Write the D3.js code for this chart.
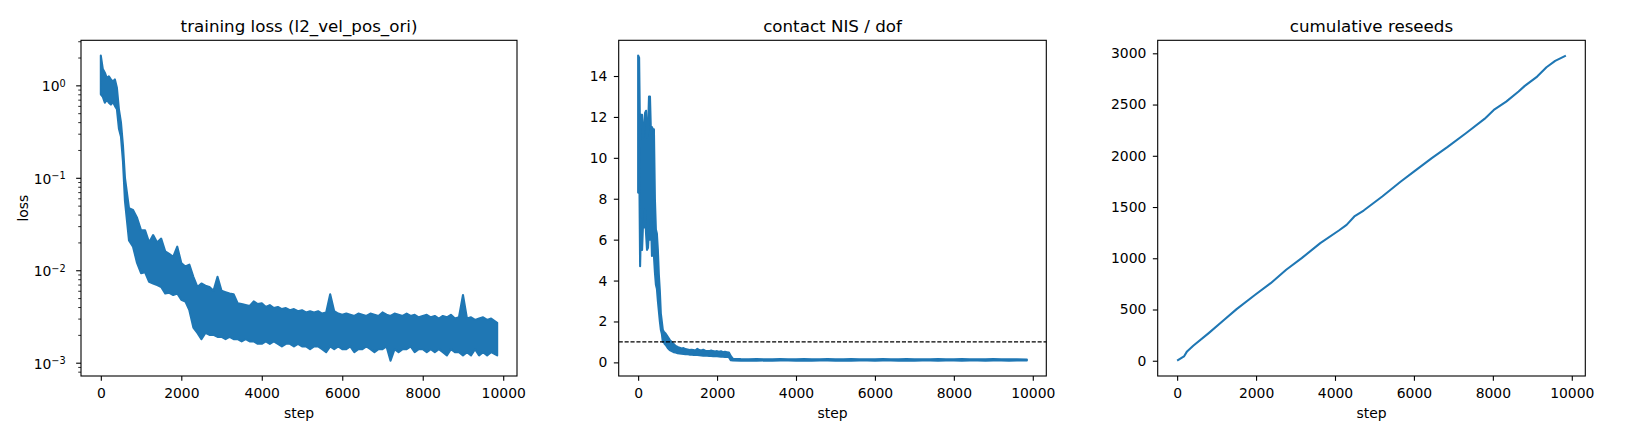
<!DOCTYPE html>
<html><head><meta charset="utf-8">
<script src="https://cdn.jsdelivr.net/npm/d3@7"></script>
<style>
body{margin:0;background:#fff}
svg{display:block}
text{font-family:"DejaVu Sans",sans-serif;fill:#000}
</style>
</head><body>
<svg id="c" width="1650" height="440"></svg>
<script>
// ---------- data ----------
const stepRange = [0, 9850];   // first and last logged step

// Panel 1: training loss, per bin: upper and lower envelope of the noisy trace
const lossStep = [0,50,100,150,200,250,300,350,400,450,500,550,600,700,800,900,1000,1100,1200,1300,1400,1500,1600,1700,1800,1900,
  2000,2100,2200,2300,2400,2500,2600,2700,2800,2900,3000,3100,3200,3300,3400,3500,3600,3700,3800,3900,
  4000,4100,4200,4300,4400,4500,4600,4700,4800,4900,5000,5100,5200,5300,5400,5500,5600,5700,5800,5900,
  6000,6100,6200,6300,6400,6500,6600,6700,6800,6900,7000,7100,7200,7300,7400,7500,7600,7700,7800,7900,
  8000,8100,8200,8300,8400,8500,8600,8700,8800,8900,9000,9100,9200,9300,9400,9500,9600,9700,9850];
const lossHi = [2.1,1.5,1.37,1.2,1.25,1.16,1.1,1.16,0.94,0.55,0.4,0.225,0.1,0.047,0.045,0.037,0.027,0.027,0.02,0.024,0.02,0.022,0.016,0.015,0.014,0.018,
  0.012,0.011,0.0115,0.0085,0.0066,0.0072,0.0068,0.0066,0.006,0.0085,0.006,0.0058,0.0056,0.0055,0.0044,0.0043,0.0042,0.0041,0.0046,0.0043,
  0.0044,0.004,0.0042,0.0039,0.004,0.0038,0.0039,0.0037,0.0038,0.0036,0.0037,0.0035,0.0036,0.0035,0.0036,0.0034,0.0035,0.0055,0.0036,0.0034,
  0.0033,0.0034,0.0033,0.0032,0.0034,0.0033,0.0032,0.0034,0.0033,0.0032,0.0035,0.0033,0.0032,0.0034,0.0033,0.0032,0.0034,0.0032,0.0033,0.0031,
  0.0032,0.0033,0.0031,0.0032,0.003,0.0032,0.0031,0.0033,0.003,0.0031,0.0054,0.003,0.0031,0.0029,0.003,0.0031,0.0029,0.003,0.0027];
const lossLo = [0.8,0.75,0.65,0.7,0.65,0.62,0.66,0.6,0.55,0.34,0.28,0.15,0.056,0.021,0.018,0.012,0.0093,0.0095,0.0075,0.0072,0.0069,0.0066,0.0056,0.0057,0.0054,0.0056,
  0.0048,0.0046,0.0037,0.0024,0.0021,0.0018,0.0021,0.002,0.002,0.0019,0.0019,0.0018,0.0019,0.0018,0.0018,0.0017,0.0018,0.0017,0.0017,0.0016,
  0.0016,0.0017,0.0016,0.0017,0.0016,0.0015,0.0016,0.0016,0.0015,0.0016,0.0015,0.0015,0.0014,0.0015,0.0015,0.0014,0.0013,0.0015,0.0014,0.0015,
  0.0014,0.0014,0.0015,0.0013,0.0014,0.0014,0.0015,0.0014,0.0013,0.0014,0.0014,0.0015,0.00105,0.0014,0.0013,0.0014,0.0014,0.0015,0.0013,0.0014,
  0.0014,0.0013,0.0014,0.0013,0.0014,0.0013,0.0012,0.0014,0.0013,0.0013,0.0012,0.0013,0.0012,0.0014,0.0012,0.0013,0.0012,0.0013,0.0012];

// Panel 2: contact NIS / dof, upper and lower envelope per bin
const nisStep = [0,25,50,75,100,125,150,175,200,225,250,275,300,325,350,375,400,425,450,475,500,525,550,575,600,625,650,675,700,
  750,800,850,900,950,1000,1050,1100,1150,1200,1250,1300,1350,1400,1450,1500,1550,1600,1650,1700,1750,1800,1850,1900,1950,2000,2050,2100,2150,2200,2250,2300,
  2350,2400,
  2600,2800,3000,3200,3400,3600,3800,4000,4200,4400,4600,4800,5000,5200,5400,5600,5800,6000,6200,6400,6600,6800,7000,7200,7400,7600,7800,8000,8200,8400,8600,8800,9000,9200,9400,9600,9850];
const nisHi = [15.0,14.9,10.9,12.1,12.1,11.0,11.4,12.2,12.3,11.0,11.3,13.0,13.0,11.2,11.5,11.4,11.4,8.0,6.5,6.3,5.5,4.3,3.5,2.4,2.0,1.6,1.5,1.45,1.4,
  1.25,1.1,1.0,0.9,0.8,0.75,0.72,0.68,0.7,0.65,0.63,0.6,0.62,0.6,0.58,0.66,0.6,0.58,0.62,0.57,0.56,0.55,0.58,0.55,0.53,0.55,0.52,0.54,0.5,0.52,0.5,0.48,
  0.3,0.18,
  0.16,0.15,0.16,0.15,0.15,0.16,0.15,0.15,0.16,0.15,0.15,0.16,0.15,0.15,0.16,0.15,0.15,0.15,0.16,0.15,0.15,0.16,0.15,0.15,0.15,0.16,0.15,0.15,0.16,0.15,0.15,0.15,0.16,0.15,0.15,0.15,0.14];
const nisLo = [8.3,10.5,4.7,7.0,5.5,6.8,6.6,7.5,6.3,5.5,5.6,6.5,6.0,7.0,5.2,6.0,5.2,4.4,3.8,3.6,3.0,2.5,2.0,1.6,1.4,1.0,1.0,0.9,0.85,
  0.7,0.6,0.55,0.5,0.48,0.45,0.44,0.42,0.41,0.4,0.4,0.38,0.38,0.36,0.37,0.36,0.35,0.34,0.33,0.33,0.32,0.31,0.31,0.3,0.3,0.3,0.29,0.28,0.28,0.27,0.27,0.25,
  0.1,0.09,
  0.08,0.09,0.08,0.09,0.08,0.09,0.09,0.08,0.09,0.08,0.09,0.09,0.08,0.09,0.08,0.09,0.09,0.08,0.09,0.09,0.08,0.09,0.08,0.09,0.09,0.08,0.09,0.09,0.08,0.09,0.09,0.08,0.09,0.09,0.08,0.09,0.09];
const nisTarget = 1;

// Panel 3: cumulative reseeds
const reseedStep  = [0,173,251,408,800,1193,1507,1978,2371,2763,3156,3627,4098,4294,4490,4726,5197,5668,5982,6453,6846,7317,7788,8024,8338,8652,8809,9123,9359,9579,9850];
const reseedCount = [0,42,91,146,270,400,504,644,757,888,1001,1148,1271,1326,1408,1466,1603,1749,1840,1977,2084,2220,2360,2447,2529,2627,2682,2773,2864,2926,2978];

// tick values
const stepTicks   = [0,2000,4000,6000,8000,10000];
const lossTicks   = [1e-3,1e-2,1e-1,1];
const nisTicks    = [0,2,4,6,8,10,12,14];
const reseedTicks = [0,500,1000,1500,2000,2500,3000];

const titles = ["training loss (l2_vel_pos_ori)","contact NIS / dof","cumulative reseeds"];

// ---------- drawing ----------
const svg = d3.select('#c');
svg.append('rect').attr('width',1650).attr('height',440).attr('fill','#fff');
const TOP = 40.3, BOTTOM = 376;
const FS = 13.9, TITLE_FS = 16.7;
const BLUE = '#1f77b4';
const boxes = [{l:81,r:517},{l:618.7,r:1046.3},{l:1157.7,r:1585.3}];

function xScale(box){
  const p = (stepRange[1]-stepRange[0])*0.05;
  return d3.scaleLinear().domain([stepRange[0]-p, stepRange[1]+p]).range([box.l, box.r]);
}
function linY(lo, hi){
  const e = [d3.min(lo), d3.max(hi)]; const p = (e[1]-e[0])*0.05;
  return d3.scaleLinear().domain([e[0]-p, e[1]+p]).range([BOTTOM, TOP]);
}
function logY(lo, hi){
  const e = [Math.log10(d3.min(lo)), Math.log10(d3.max(hi))]; const p = (e[1]-e[0])*0.05;
  return d3.scaleLog().domain([Math.pow(10,e[0]-p), Math.pow(10,e[1]+p)]).range([BOTTOM, TOP]);
}

function drawPanel(i, y, yTicks, opts, drawData){
  const box = boxes[i];
  const x = xScale(box);
  const g = svg.append('g');
  const clipId = 'clip'+i;
  svg.append('clipPath').attr('id',clipId).append('rect')
    .attr('x',box.l).attr('y',TOP).attr('width',box.r-box.l).attr('height',BOTTOM-TOP);

  // x axis
  const xa = g.append('g').attr('transform',`translate(0,${BOTTOM})`)
    .call(d3.axisBottom(x).tickValues(stepTicks).tickFormat(d3.format('d')).tickSizeOuter(0).tickSize(4.86).tickPadding(7.5));
  xa.select('.domain').remove();
  xa.selectAll('line').attr('stroke','#000').attr('stroke-width',1.1);
  xa.selectAll('text').attr('font-size',FS).attr('font-family','DejaVu Sans').attr('fill','#000');

  // y axis
  if (opts.log){
    const [d0,d1] = y.domain();
    const minor = [];
    for (let e=-5;e<=1;e++) for (let k=2;k<=9;k++){ const v=k*Math.pow(10,e); if (v>=d0 && v<=d1) minor.push(v); }
    const ym = g.append('g').attr('transform',`translate(${box.l},0)`)
      .call(d3.axisLeft(y).tickValues(minor).tickFormat('').tickSizeOuter(0).tickSize(2.78));
    ym.select('.domain').remove();
    ym.selectAll('line').attr('stroke','#000').attr('stroke-width',0.83);
    const ya = g.append('g').attr('transform',`translate(${box.l},0)`)
      .call(d3.axisLeft(y).tickValues(yTicks).tickFormat('').tickSizeOuter(0).tickSize(4.86));
    ya.select('.domain').remove();
    ya.selectAll('line').attr('stroke','#000').attr('stroke-width',1.1);
    yTicks.forEach(v=>{
      const ex = Math.round(Math.log10(v));
      const t = g.append('text').attr('x',box.l-15.3).attr('y',y(v)+6)
        .attr('text-anchor','end').attr('font-size',FS);
      t.append('tspan').text('10');
      t.append('tspan').attr('font-size',FS*0.7).attr('dy',-4.7).text(ex<0 ? '\u2212'+(-ex) : String(ex));
    });
  } else {
    const ya = g.append('g').attr('transform',`translate(${box.l},0)`)
      .call(d3.axisLeft(y).tickValues(yTicks).tickFormat(d3.format('d')).tickSizeOuter(0).tickSize(4.86).tickPadding(6.5));
    ya.select('.domain').remove();
    ya.selectAll('line').attr('stroke','#000').attr('stroke-width',1.1);
    ya.selectAll('text').attr('font-size',FS).attr('font-family','DejaVu Sans').attr('fill','#000');
  }

  const dg = g.append('g').attr('clip-path',`url(#${clipId})`);
  drawData(dg, x, y);

  if (opts.hline !== undefined){
    g.append('line').attr('x1',box.l).attr('x2',box.r)
      .attr('y1',y(opts.hline)).attr('y2',y(opts.hline))
      .attr('stroke','#000').attr('stroke-width',1.1).attr('stroke-dasharray','4.1,1.8');
  }

  // frame
  g.append('rect').attr('x',box.l).attr('y',TOP).attr('width',box.r-box.l).attr('height',BOTTOM-TOP)
    .attr('fill','none').attr('stroke','#000').attr('stroke-width',1.1);

  // title and labels
  const cx = (box.l+box.r)/2;
  g.append('text').attr('x',cx).attr('y',TOP-8.3).attr('text-anchor','middle')
    .attr('font-size',TITLE_FS).text(titles[i]);
  g.append('text').attr('x',cx).attr('y',418).attr('text-anchor','middle')
    .attr('font-size',FS).text('step');
  if (opts.ylabel){
    g.append('text').attr('transform',`translate(28,${(TOP+BOTTOM)/2}) rotate(-90)`)
      .attr('text-anchor','middle').attr('font-size',FS).text(opts.ylabel);
  }
}

// noisy trace drawn as its band between lower and upper envelope, outlined with the line width
function band(steps, hi, lo){
  return (g, x, y) => {
    const rows = steps.map((s,k)=>({s, hi:hi[k], lo:lo[k]}));
    const area = d3.area().x(d=>x(d.s)).y0(d=>y(d.lo)).y1(d=>y(d.hi));
    g.append('path').datum(rows)
      .attr('fill',BLUE).attr('stroke',BLUE).attr('stroke-width',2.08)
      .attr('stroke-linejoin','round').attr('d',area);
  };
}

drawPanel(0, logY(lossLo, lossHi), lossTicks, {log:true, ylabel:'loss'}, band(lossStep, lossHi, lossLo));
drawPanel(1, linY(nisLo, nisHi), nisTicks, {hline:nisTarget}, band(nisStep, nisHi, nisLo));
drawPanel(2, linY(reseedCount, reseedCount), reseedTicks, {}, (g,x,y)=>{
  g.append('path').datum(reseedStep.map((s,k)=>[s, reseedCount[k]]))
    .attr('fill','none').attr('stroke',BLUE).attr('stroke-width',2.08).attr('stroke-linejoin','round')
    .attr('d', d3.line().x(d=>x(d[0])).y(d=>y(d[1])));
});
</script>
</body></html>
